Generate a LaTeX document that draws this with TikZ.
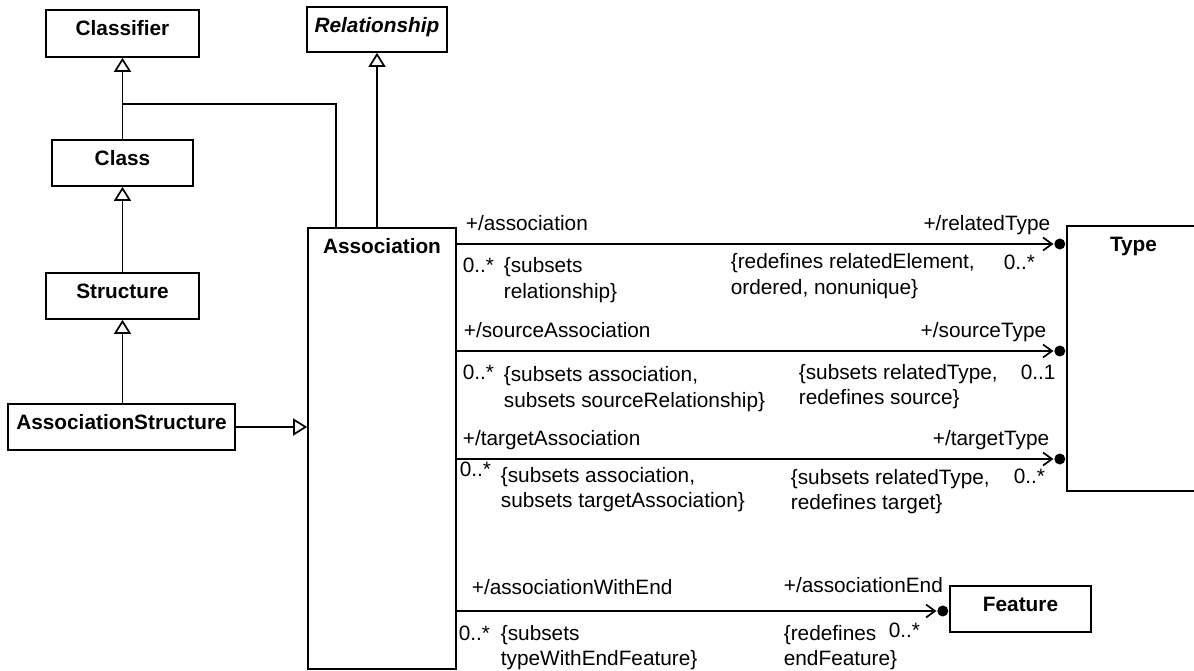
\documentclass[tikz,border=0pt]{standalone}
\usepackage{fontspec}
\setmainfont{Liberation Sans}
\usetikzlibrary{arrows.meta}
\begin{document}
\begin{tikzpicture}[x=1pt,y=-1pt, line width=1.7pt,
  font=\fontsize{20.8pt}{25.5pt}\selectfont,
  cls/.style={draw, line width=1.7pt, inner sep=0pt},
  clsname/.style={anchor=north, inner sep=0pt, text height=15pt, text depth=4pt, yshift=-10.5pt, font=\fontsize{20.8pt}{25.5pt}\selectfont\bfseries},
  gen/.style={-{Triangle[open,length=14pt,width=17pt]}},
  nav/.style={-{Straight Barb[length=9pt,width=13pt]}},
  enddot/.style={circle, fill, inner sep=0pt, minimum size=11pt, anchor=east},
  lbl/.style={inner sep=0pt, anchor=base west, align=left},
  lblr/.style={inner sep=0pt, anchor=base east},
]
\useasboundingbox (0,0) rectangle (1194,671);

% classes
\node[cls, minimum width=153pt, minimum height=47pt, label={[clsname]north:Classifier}] (classifier) at (122.5,33.5) {};
\node[cls, minimum width=140pt, minimum height=45pt, label={[clsname]north:\textit{Relationship}}] (rel) at (377,29.5) {};
\node[cls, minimum width=141pt, minimum height=46pt, label={[clsname]north:Class}] (class) at (122.5,163) {};
\node[cls, minimum width=153pt, minimum height=46pt, label={[clsname]north:Structure}] (structure) at (122.5,296) {};
\node[cls, minimum width=227pt, minimum height=46pt, label={[clsname]north:AssociationStructure}] (astruct) at (121.5,427) {};
\node[cls, minimum width=148pt, minimum height=441pt, label={[clsname]north:Association}] (assoc) at (382,448.5) {};
\node[cls, minimum width=133pt, minimum height=265pt, label={[clsname]north:Type}] (type) at (1133.5,358.5) {};
\node[cls, minimum width=141pt, minimum height=46pt, label={[clsname]north:Feature}] (feature) at (1020.5,609) {};

% generalizations
\draw[gen] (class) -- (classifier);
\draw[gen] (structure) -- (class);
\draw[gen] (astruct.north -| structure.south) -- (structure.south);
\draw[gen] (astruct) -- (astruct -| assoc.west);
\draw[gen] (assoc.north -| rel.south) -- (rel.south);
\coordinate (junction) at (classifier.south |- 0,104);
\draw ([xshift=29pt]assoc.north west) |- (junction);

% association ends
\node[enddot] (d1) at (type.west |- 0,244) {};
\node[enddot] (d2) at (type.west |- 0,351) {};
\node[enddot] (d3) at (type.west |- 0,459) {};
\node[enddot] (d4) at (feature.west |- 0,611) {};
\draw[nav] (assoc.east |- d1) -- (d1);
\draw[nav] (assoc.east |- d2) -- (d2);
\draw[nav] (assoc.east |- d3) -- (d3);
\draw[nav] (assoc.east |- d4) -- (d4);

% labels line 1
\node[lbl] (l1a) at (465,230.5) {+/association};
\node[lbl] (l1b) at (462,272) {0..*};
\node[lbl] (l1c) at (503,298) {\{subsets\\relationship\}};
\node[lbl] (l1d) at (730,294) {\{redefines relatedElement,\\ordered, nonunique\}};
\node[lbl] (l1e) at (1003,269.5) {0..*};
\node[lblr] (l1f) at (1051,230.5) {+/relatedType};
% labels line 2
\node[lbl] (l2a) at (463,337) {+/sourceAssociation};
\node[lbl] (l2b) at (462,379) {0..*};
\node[lbl] (l2c) at (503,407) {\{subsets association,\\subsets sourceRelationship\}};
\node[lbl] (l2d) at (798,404.5) {\{subsets relatedType,\\redefines source\}};
\node[lbl] (l2e) at (1020,379) {0..1};
\node[lblr] (l2f) at (1047,337) {+/sourceType};
% labels line 3
\node[lbl] (l3a) at (462,445) {+/targetAssociation};
\node[lbl] (l3b) at (459,476) {0..*};
\node[lbl] (l3c) at (500,507.5) {\{subsets association,\\subsets targetAssociation\}};
\node[lbl] (l3d) at (790,509.5) {\{subsets relatedType,\\redefines target\}};
\node[lbl] (l3e) at (1013,483) {0..*};
\node[lblr] (l3f) at (1050,445) {+/targetType};
% labels line 4
\node[lbl] (l4a) at (471,594) {+/associationWithEnd};
\node[lbl] (l4b) at (458,640) {0..*};
\node[lbl] (l4c) at (500,665.5) {\{subsets\\typeWithEndFeature\}};
\node[lbl] (l4d) at (783,592) {+/associationEnd};
\node[lbl] (l4e) at (783,665.5) {\{redefines\\endFeature\}};
\node[lbl] (l4f) at (888,637) {0..*};
\end{tikzpicture}
\end{document}
